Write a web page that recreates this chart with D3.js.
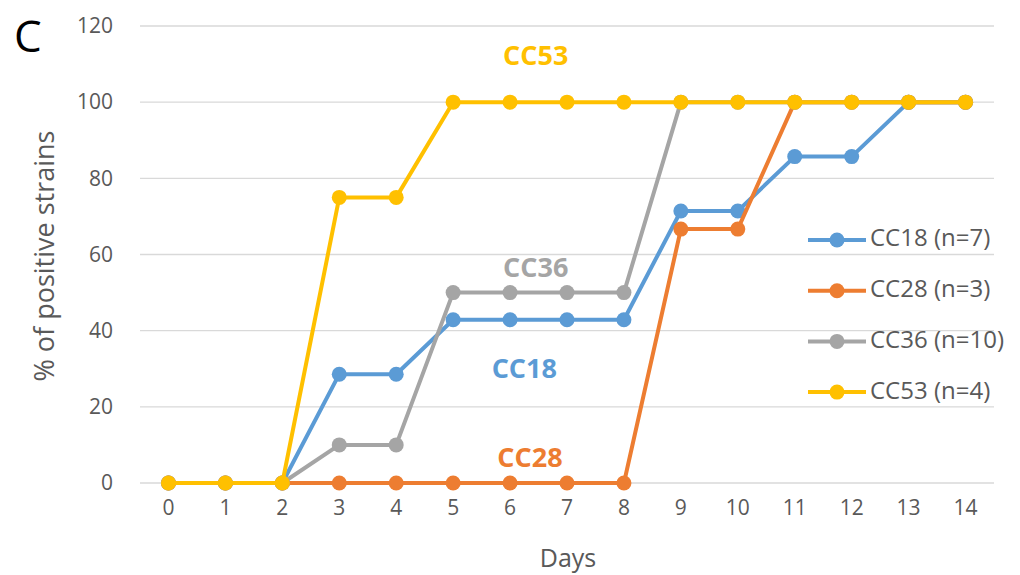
<!DOCTYPE html>
<html><head><meta charset="utf-8">
<script src="https://cdn.jsdelivr.net/npm/d3@7"></script>
<style>body{margin:0;background:#fff}svg{display:block}</style>
</head><body>
<script>
const days = [0,1,2,3,4,5,6,7,8,9,10,11,12,13,14];
const cc18 = [0,0,0,28.57,28.57,42.86,42.86,42.86,42.86,71.43,71.43,85.71,85.71,100,100];
const cc28 = [0,0,0,0,0,0,0,0,0,66.67,66.67,100,100,100,100];
const cc36 = [0,0,0,10,10,50,50,50,50,100,100,100,100,100,100];
const cc53 = [0,0,0,75,75,100,100,100,100,100,100,100,100,100,100];
const seriesNames = ["CC18 (n=7)","CC28 (n=3)","CC36 (n=10)","CC53 (n=4)"];
const shortNames = ["CC18","CC28","CC36","CC53"];
const colors = ["#5B9BD5","#ED7D31","#A5A5A5","#FFC000"];
const yTicks = [0,20,40,60,80,100,120];
const series = [cc18,cc28,cc36,cc53];
// annotation anchor (day, value) for labels
const labelDay = [6.25,6.35,6.45,6.45];
const labelVal = [29.5,6.2,56,111.7];

const W=1020,H=575;
const svg=d3.select("body").append("svg").attr("width",W).attr("height",H);
const font="'Open Sans', 'Liberation Sans', sans-serif";

const x=d3.scaleBand().domain(days).range([140,994]);
const y=d3.scaleLinear().domain([0,120]).range([483,26]);
const cx=d=>x(d)+x.bandwidth()/2;

// gridlines
svg.append("g").selectAll("line").data(yTicks).join("line")
  .attr("x1",140).attr("x2",994).attr("y1",d=>y(d)).attr("y2",d=>y(d))
  .attr("stroke","#d9d9d9").attr("stroke-width",1.3);

// y tick labels
const yAxis=svg.append("g").attr("transform","translate(140,0)")
  .call(d3.axisLeft(y).tickValues(yTicks).tickSize(0).tickPadding(27));
yAxis.select(".domain").remove();
yAxis.selectAll("text").attr("font-family",font).attr("font-size",21).attr("fill","#595959");

// x tick labels
const xAxis=svg.append("g").attr("transform","translate(0,483)")
  .call(d3.axisBottom(x).tickSize(0).tickPadding(17));
xAxis.select(".domain").remove();
xAxis.selectAll("text").attr("font-family",font).attr("font-size",21).attr("fill","#595959");

// lines & markers
const line=d3.line().x((d,i)=>cx(days[i])).y(d=>y(d));
series.forEach((s,k)=>{
  const g=svg.append("g");
  g.append("path").datum(s).attr("d",line).attr("fill","none")
    .attr("stroke",colors[k]).attr("stroke-width",4).attr("stroke-linejoin","round");
  g.selectAll("circle").data(s).join("circle")
    .attr("cx",(d,i)=>cx(days[i])).attr("cy",d=>y(d)).attr("r",7.5).attr("fill",colors[k]);
});

// annotations
shortNames.forEach((n,k)=>{
  svg.append("text").attr("x",cx(0)+labelDay[k]*x.step()).attr("y",y(labelVal[k]))
    .attr("text-anchor","middle").attr("dominant-baseline","middle")
    .attr("font-family",font).attr("font-weight","bold").attr("font-size",27)
    .attr("fill",colors[k]).text(n);
});

// legend
const leg=svg.append("g");
seriesNames.forEach((n,k)=>{
  const ly=240+k*50.7;
  leg.append("line").attr("x1",808).attr("x2",866).attr("y1",ly).attr("y2",ly)
    .attr("stroke",colors[k]).attr("stroke-width",4);
  leg.append("circle").attr("cx",837).attr("cy",ly).attr("r",7.5).attr("fill",colors[k]);
  leg.append("text").attr("x",870).attr("y",ly).attr("dominant-baseline","middle")
    .attr("font-family",font).attr("font-size",24).attr("fill","#595959").text(n);
});

// axis titles
svg.append("text").attr("x",568).attr("y",560).attr("text-anchor","middle")
  .attr("dominant-baseline","middle").attr("font-family",font).attr("font-size",25)
  .attr("fill","#595959").text("Days");
svg.append("text").attr("transform","translate(47,256) rotate(-90)").attr("text-anchor","middle")
  .attr("dominant-baseline","middle").attr("font-family",font).attr("font-size",27)
  .attr("fill","#595959").text("% of positive strains");

// panel letter
svg.append("text").attr("x",14).attr("y",40).attr("dominant-baseline","middle")
  .attr("font-family",font).attr("font-size",44).attr("fill","#000").text("C");
</script>
</body></html>
